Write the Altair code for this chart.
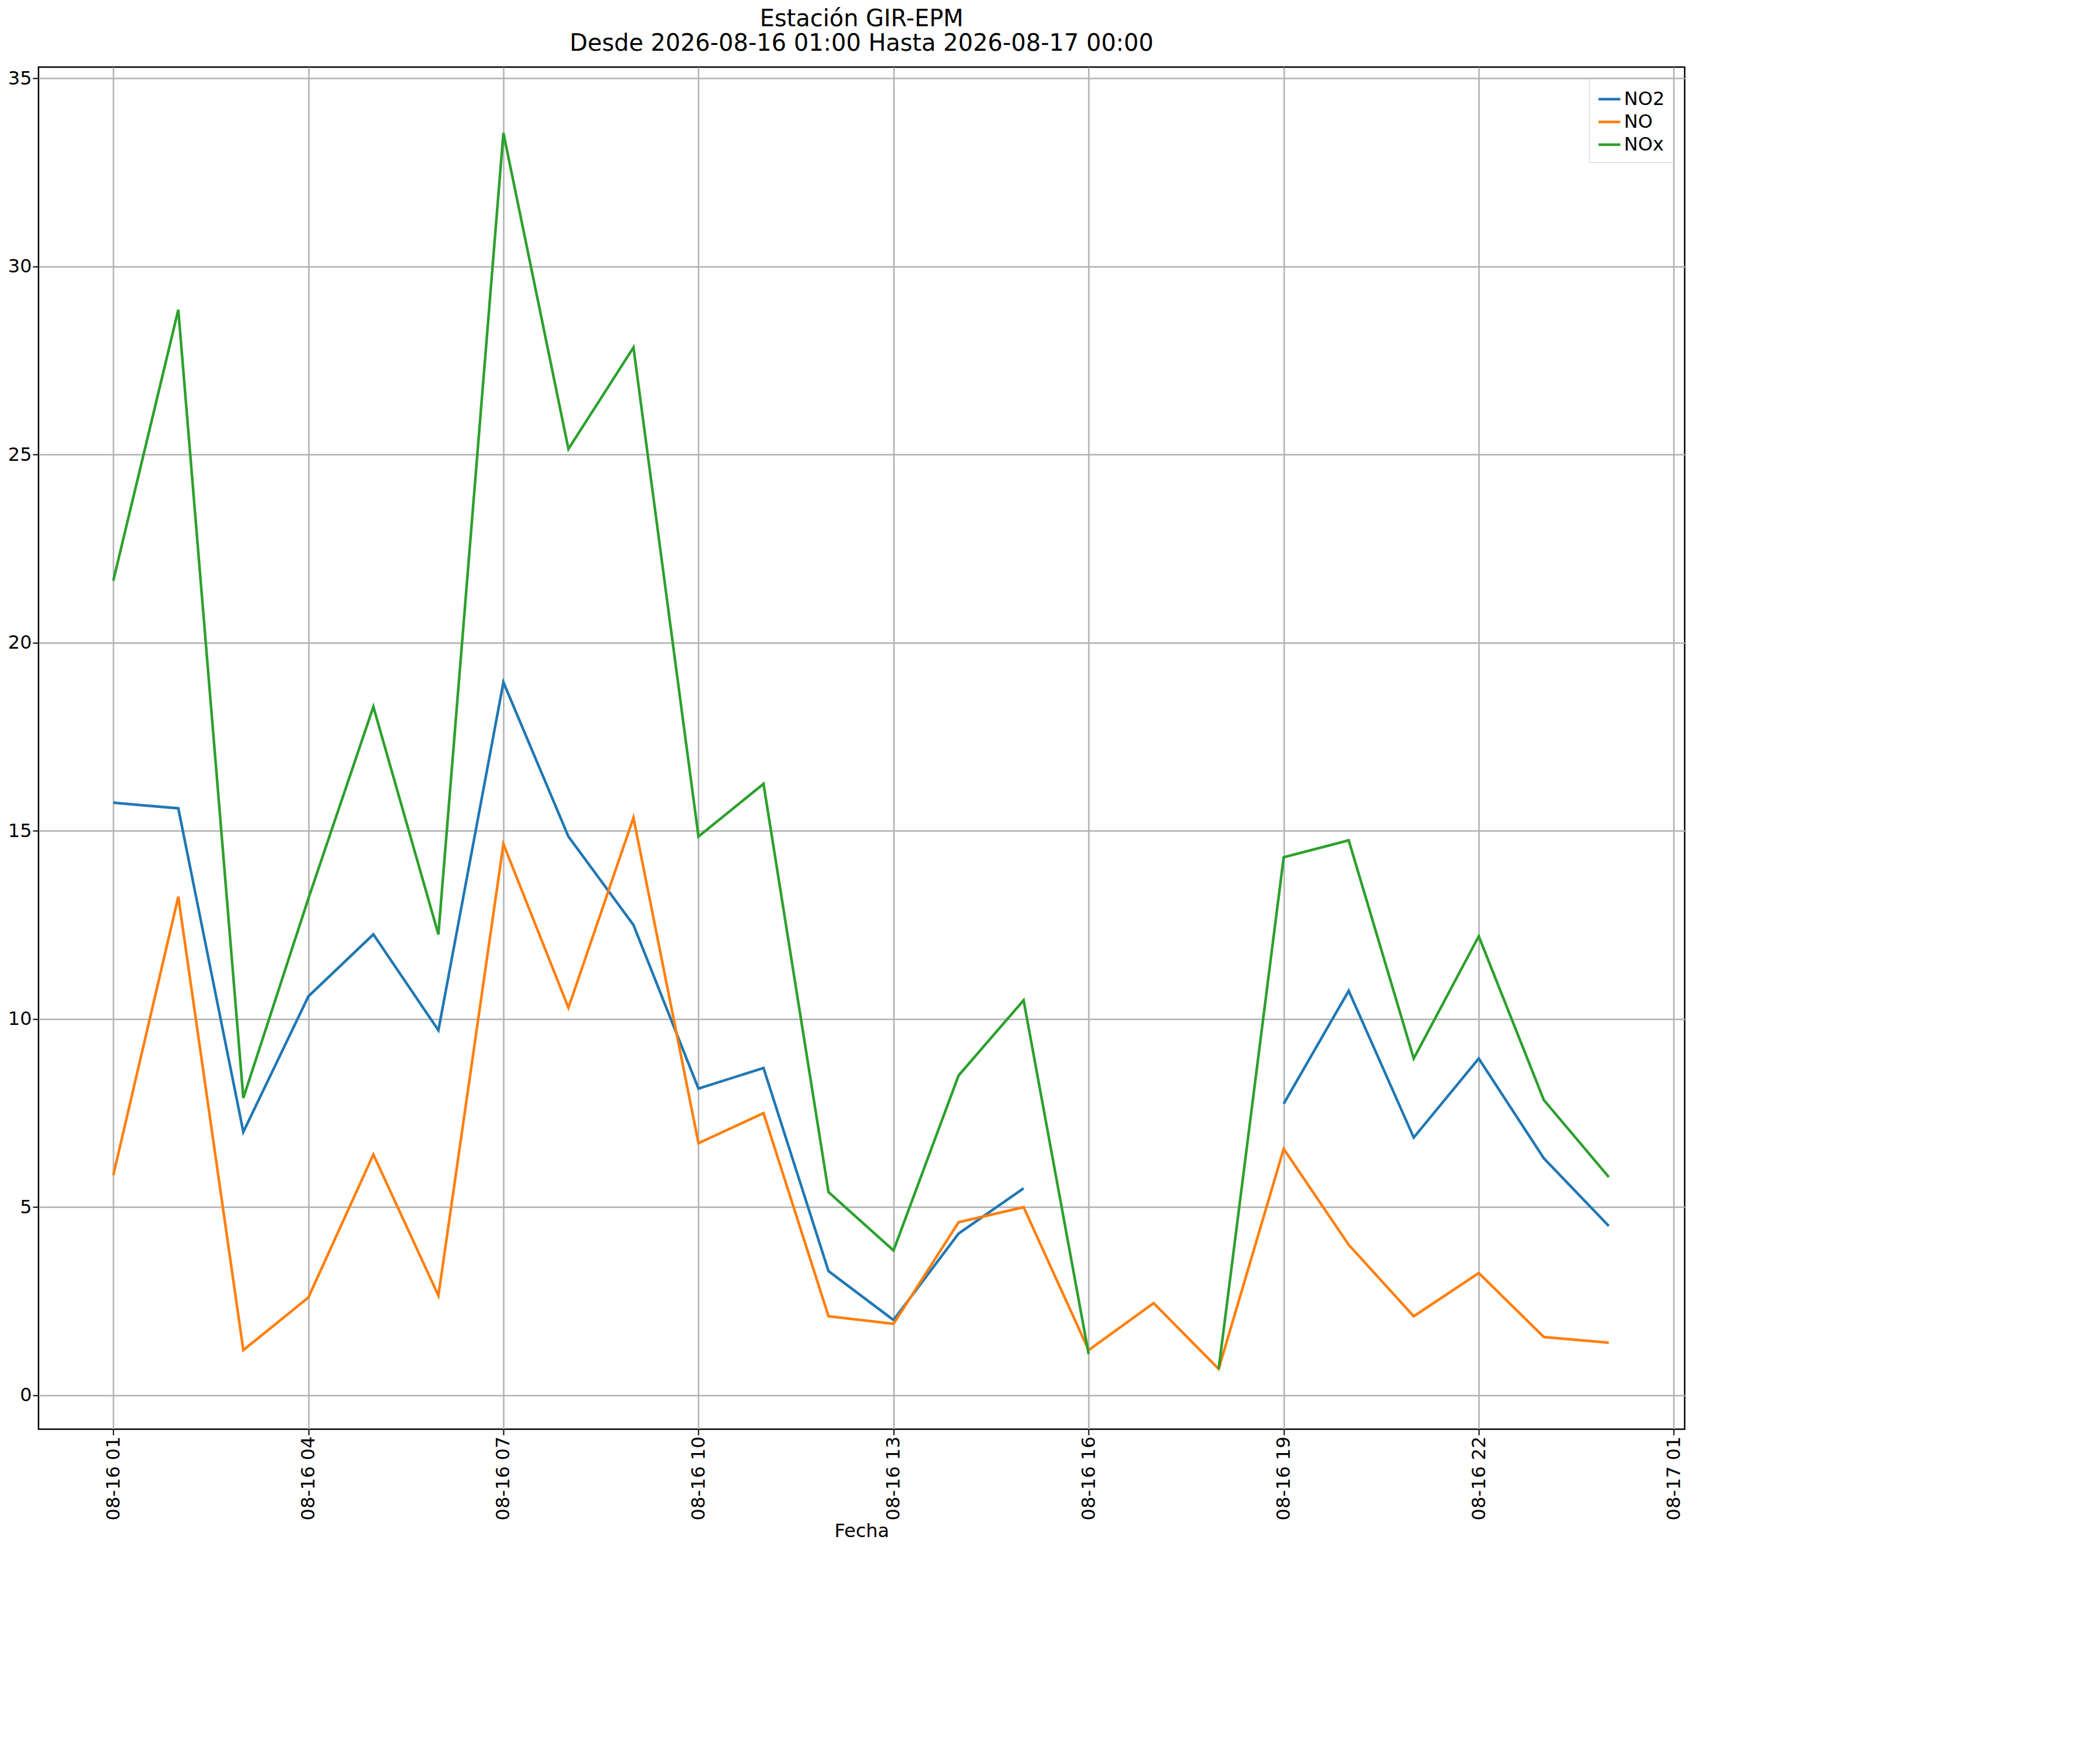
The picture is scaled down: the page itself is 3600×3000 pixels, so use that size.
import pandas as pd
import altair as alt

hours = list(range(1, 25))
no2 = [15.75, 15.6, 7.0, 10.6, 12.25, 9.7, 18.95, 14.85, 12.5, 8.15, 8.7, 3.3,
       2.0, 4.3, 5.5, None, None, None, 7.75, 10.75, 6.85, 8.95, 6.3, 4.5]
no = [5.85, 13.25, 1.2, 2.6, 6.4, 2.65, 14.65, 10.3, 15.35, 6.7, 7.5, 2.1,
      1.9, 4.6, 5.0, 1.2, 2.45, 0.7, 6.55, 4.0, 2.1, 3.25, 1.55, 1.4]
nox = [21.65, 28.85, 7.9, 13.2, 18.3, 12.25, 33.55, 25.15, 27.85, 14.85, 16.25, 5.4,
       3.85, 8.5, 10.5, 1.1, None, 0.7, 14.3, 14.75, 8.95, 12.2, 7.85, 5.8]

fechas = pd.Timestamp("2026-08-16 00:00") + pd.to_timedelta(hours, unit="h")
rows = []
for name, vals in [("NO2", no2), ("NO", no), ("NOx", nox)]:
    for f, v in zip(fechas, vals):
        rows.append({"Fecha": f.strftime("%Y-%m-%dT%H:%M:%S"), "serie": name, "valor": v})
df = pd.DataFrame(rows)


def dt(day, hour, minute=0):
    return alt.DateTime(year=2026, month=8, date=day, hours=hour, minutes=minute)


tick_vals = [dt(16, h) for h in [1, 4, 7, 10, 13, 16, 19, 22]] + [dt(17, 1)]

fs = 32
chart = alt.Chart(df).mark_line(strokeWidth=4.5).encode(
    x=alt.X("Fecha:T", title="Fecha",
            scale=alt.Scale(domain=[dt(15, 23, 51), dt(17, 1, 10)]),
            axis=alt.Axis(format="%m-%d %H", labelAngle=-90, values=tick_vals,
                          labelFontSize=fs, titleFontSize=fs)),
    y=alt.Y("valor:Q", title=None, scale=alt.Scale(domain=[-0.9, 35.3], nice=False),
            axis=alt.Axis(values=[0, 5, 10, 15, 20, 25, 30, 35], labelFontSize=fs)),
    color=alt.Color("serie:N", title=None, sort=["NO2", "NO", "NOx"],
                    scale=alt.Scale(domain=["NO2", "NO", "NOx"], range=["#1f77b4", "#ff7f0e", "#2ca02c"]),
                    legend=alt.Legend(orient="top-right", labelFontSize=fs, symbolType="stroke",
                                      symbolSize=1400, symbolStrokeWidth=4.5, strokeColor="#cccccc",
                                      fillColor="white", padding=14, offset=20)),
).properties(
    width=2822, height=2335,
    title=alt.TitleParams(["Estación GIR-EPM", "Desde 2026-08-16 01:00 Hasta 2026-08-17 00:00"],
                          fontSize=40, fontWeight="normal", offset=20),
).configure_view(stroke="black", strokeWidth=2.5).configure_axis(
    gridColor="#b0b0b0", gridWidth=2.5, domainColor="black", tickColor="black",
    labelColor="black", titleColor="black", labelFont="DejaVu Sans", titleFont="DejaVu Sans",
    titleFontWeight="normal", tickSize=10, tickWidth=2,
).configure_title(font="DejaVu Sans").configure_legend(labelFont="DejaVu Sans")

chart.save("out.html", embed_options={"renderer": "svg", "actions": False})
